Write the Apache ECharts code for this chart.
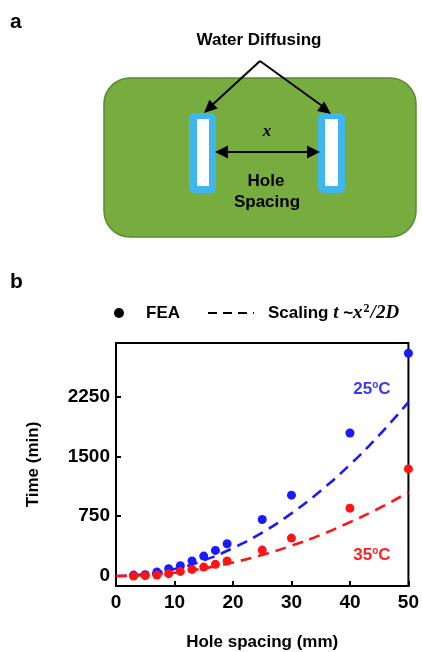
<!DOCTYPE html>
<html>
<head>
<meta charset="utf-8">
<script src="https://cdn.jsdelivr.net/npm/echarts@6/dist/echarts.min.js"></script>
<style>
  html, body { margin: 0; padding: 0; background: #fff; }
  #chart { width: 422px; height: 652px; }
</style>
</head>
<body>
<div id="chart"></div>
<script>
// Hole spacing (mm) at which the FEA runs were made
const holeSpacing = [3, 5, 7, 9, 11, 13, 15, 17, 19, 25, 30, 40, 50];
// FEA drying time (min)
const fea25 = [12, 17, 50, 92, 130, 188, 250, 321, 405, 708, 1013, 1792, 2792];
const fea35 = [0, 5, 12, 30, 58, 83, 112, 146, 188, 325, 475, 850, 1342];
// Scaling law t ~ x^2/2D, sampled along the spacing axis
const scaleX = [0, 5, 10, 15, 20, 25, 30, 35, 40, 45, 50];
const scale25 = [0, 22, 87, 196, 350, 545, 785, 1070, 1395, 1765, 2180];
const scale35 = [0, 10, 42, 95, 170, 265, 380, 515, 675, 850, 1050];
// Axis ticks
const xTicks = [0, 10, 20, 30, 40, 50];
const yTicks = [0, 750, 1500, 2250];

const BLUE = '#1a1aff';
const RED = '#ff1414';
const FONT = '"Liberation Sans", Arial, sans-serif';

const pairs = (xs, ys) => xs.map((x, i) => [x, ys[i]]);

// Filled arrowhead whose tip sits at (tx, ty), pointing away from (fx, fy)
function arrowHead(tx, ty, fx, fy, len, half) {
  const dx = tx - fx, dy = ty - fy;
  const d = Math.hypot(dx, dy);
  const ux = dx / d, uy = dy / d;
  const bx = tx - ux * len, by = ty - uy * len;
  return {
    type: 'polygon',
    shape: { points: [[tx, ty], [bx - uy * half, by + ux * half], [bx + uy * half, by - ux * half]] },
    style: { fill: '#000' }
  };
}
function seg(x1, y1, x2, y2, w) {
  return { type: 'line', shape: { x1, y1, x2, y2 }, style: { stroke: '#000', lineWidth: w } };
}

const chart = echarts.init(document.getElementById('chart'), null, { renderer: 'canvas' });

// Panel a: schematic of two holes in the substrate
const apex = [260, 61];
const leftTip = [204, 113];
const rightTip = [331, 114];
const schematic = [
  { type: 'text', left: 10, top: 12, style: { text: 'a', font: 'bold 21px ' + FONT, fill: '#000' } },
  {
    type: 'rect', shape: { x: 104, y: 78, width: 312, height: 159, r: 26 },
    style: { fill: '#76ad3e', stroke: '#5b8b32', lineWidth: 1.5 }
  },
  { type: 'rect', shape: { x: 189, y: 113, width: 27, height: 80, r: 5 }, style: { fill: '#3fb6ef' } },
  { type: 'rect', shape: { x: 197, y: 119, width: 12, height: 67 }, style: { fill: '#fff' } },
  { type: 'rect', shape: { x: 318, y: 113, width: 27, height: 80, r: 5 }, style: { fill: '#3fb6ef' } },
  { type: 'rect', shape: { x: 325, y: 119, width: 13, height: 67 }, style: { fill: '#fff' } },
  seg(apex[0], apex[1], leftTip[0] + 6, leftTip[1] - 6, 2),
  seg(apex[0], apex[1], rightTip[0] - 6, rightTip[1] - 6, 2),
  arrowHead(leftTip[0], leftTip[1], apex[0], apex[1], 13, 6),
  arrowHead(rightTip[0], rightTip[1], apex[0], apex[1], 13, 6),
  seg(224, 152, 311, 152, 2.2),
  arrowHead(215, 152, 260, 152, 13, 6.5),
  arrowHead(320, 152, 260, 152, 13, 6.5),
  {
    type: 'text', x: 259, y: 40,
    style: { text: 'Water Diffusing', font: 'bold 17px ' + FONT, fill: '#000', align: 'center', verticalAlign: 'middle' }
  },
  {
    type: 'text', x: 267, y: 132,
    style: { text: 'x', font: 'italic bold 17px "Liberation Serif", "DejaVu Serif", serif', fill: '#000', align: 'center', verticalAlign: 'middle' }
  },
  {
    type: 'text', x: 266, y: 181,
    style: { text: 'Hole', font: 'bold 17px ' + FONT, fill: '#000', align: 'center', verticalAlign: 'middle' }
  },
  {
    type: 'text', x: 267, y: 202,
    style: { text: 'Spacing', font: 'bold 17px ' + FONT, fill: '#000', align: 'center', verticalAlign: 'middle' }
  }
];

// Panel b: label, legend and temperature tags
const legendItems = [
  { type: 'text', left: 10, top: 272, style: { text: 'b', font: 'bold 21px ' + FONT, fill: '#000' } },
  { type: 'circle', shape: { cx: 119, cy: 313, r: 5 }, style: { fill: '#000' } },
  {
    type: 'text', x: 146, y: 313,
    style: { text: 'FEA', font: 'bold 17px ' + FONT, fill: '#000', verticalAlign: 'middle' }
  },
  {
    type: 'line', shape: { x1: 208, y1: 313, x2: 254, y2: 313 },
    style: { stroke: '#000', lineWidth: 2.2, lineDash: [9, 6] }
  },
  {
    type: 'text', x: 268, y: 313,
    style: {
      text: '{r|Scaling }{m|t}{r| ~}{m|x}{s|2}{m|/2D}',
      verticalAlign: 'middle',
      rich: {
        r: { font: 'bold 17px ' + FONT, fill: '#000' },
        m: { font: 'italic bold 19px "Liberation Serif", "DejaVu Serif", serif', fill: '#000' },
        s: { font: 'bold 12px "Liberation Serif", serif', fill: '#000', padding: [0, 1, 9, 1] }
      }
    }
  },
  {
    type: 'text', x: 372, y: 389,
    style: {
      text: '{a|25}{o|o}{a|C}', align: 'center', verticalAlign: 'middle',
      rich: {
        a: { font: 'bold 17px ' + FONT, fill: '#3a3aff' },
        o: { font: 'bold 10px ' + FONT, fill: '#3a3aff', padding: [0, 0, 7, 0] }
      }
    }
  },
  {
    type: 'text', x: 372, y: 555,
    style: {
      text: '{a|35}{o|o}{a|C}', align: 'center', verticalAlign: 'middle',
      rich: {
        a: { font: 'bold 17px ' + FONT, fill: '#ff2020' },
        o: { font: 'bold 10px ' + FONT, fill: '#ff2020', padding: [0, 0, 7, 0] }
      }
    }
  }
];

const tickLabel = {
  color: '#000', fontWeight: 'bold', fontSize: 19, fontFamily: FONT,
  formatter: (v) => String(v)
};

chart.setOption({
  animation: false,
  backgroundColor: '#fff',
  grid: {
    left: 116, right: 12, top: 343, bottom: 66,
    show: true, borderColor: '#000', borderWidth: 2, backgroundColor: 'transparent'
  },
  xAxis: {
    type: 'value', min: 0, max: 50, interval: 10,
    name: 'Hole spacing (mm)', nameLocation: 'middle', nameGap: 48,
    nameTextStyle: { color: '#000', fontWeight: 'bold', fontSize: 17, fontFamily: FONT },
    axisLine: { onZero: false, lineStyle: { color: '#000', width: 2 } },
    axisTick: { inside: true, length: 5, lineStyle: { color: '#000', width: 2 } },
    axisLabel: Object.assign({ margin: 7, customValues: xTicks }, tickLabel),
    splitLine: { show: false }
  },
  yAxis: {
    type: 'value', min: -125, max: 2920,
    name: 'Time (min)', nameLocation: 'middle', nameGap: 74,
    nameTextStyle: { color: '#000', fontWeight: 'bold', fontSize: 17, fontFamily: FONT },
    axisLine: { onZero: false, lineStyle: { color: '#000', width: 2 } },
    axisTick: { inside: true, length: 5, customValues: yTicks, lineStyle: { color: '#000', width: 2 } },
    axisLabel: Object.assign({ margin: 6, customValues: yTicks }, tickLabel),
    splitLine: { show: false }
  },
  graphic: schematic.concat(legendItems),
  series: [
    {
      name: 'Scaling 25', type: 'line', data: pairs(scaleX, scale25), smooth: true,
      showSymbol: false, symbol: 'none',
      lineStyle: { color: BLUE, width: 2.6, type: [11, 7] }, z: 2
    },
    {
      name: 'Scaling 35', type: 'line', data: pairs(scaleX, scale35), smooth: true,
      showSymbol: false, symbol: 'none',
      lineStyle: { color: RED, width: 2.6, type: [11, 7] }, z: 2
    },
    {
      name: 'FEA 25', type: 'scatter', data: pairs(holeSpacing, fea25),
      symbol: 'circle', symbolSize: 9, itemStyle: { color: BLUE, opacity: 1 }, z: 3
    },
    {
      name: 'FEA 35', type: 'scatter', data: pairs(holeSpacing, fea35),
      symbol: 'circle', symbolSize: 9, itemStyle: { color: RED, opacity: 1 }, z: 3
    }
  ]
});
</script>
</body>
</html>
